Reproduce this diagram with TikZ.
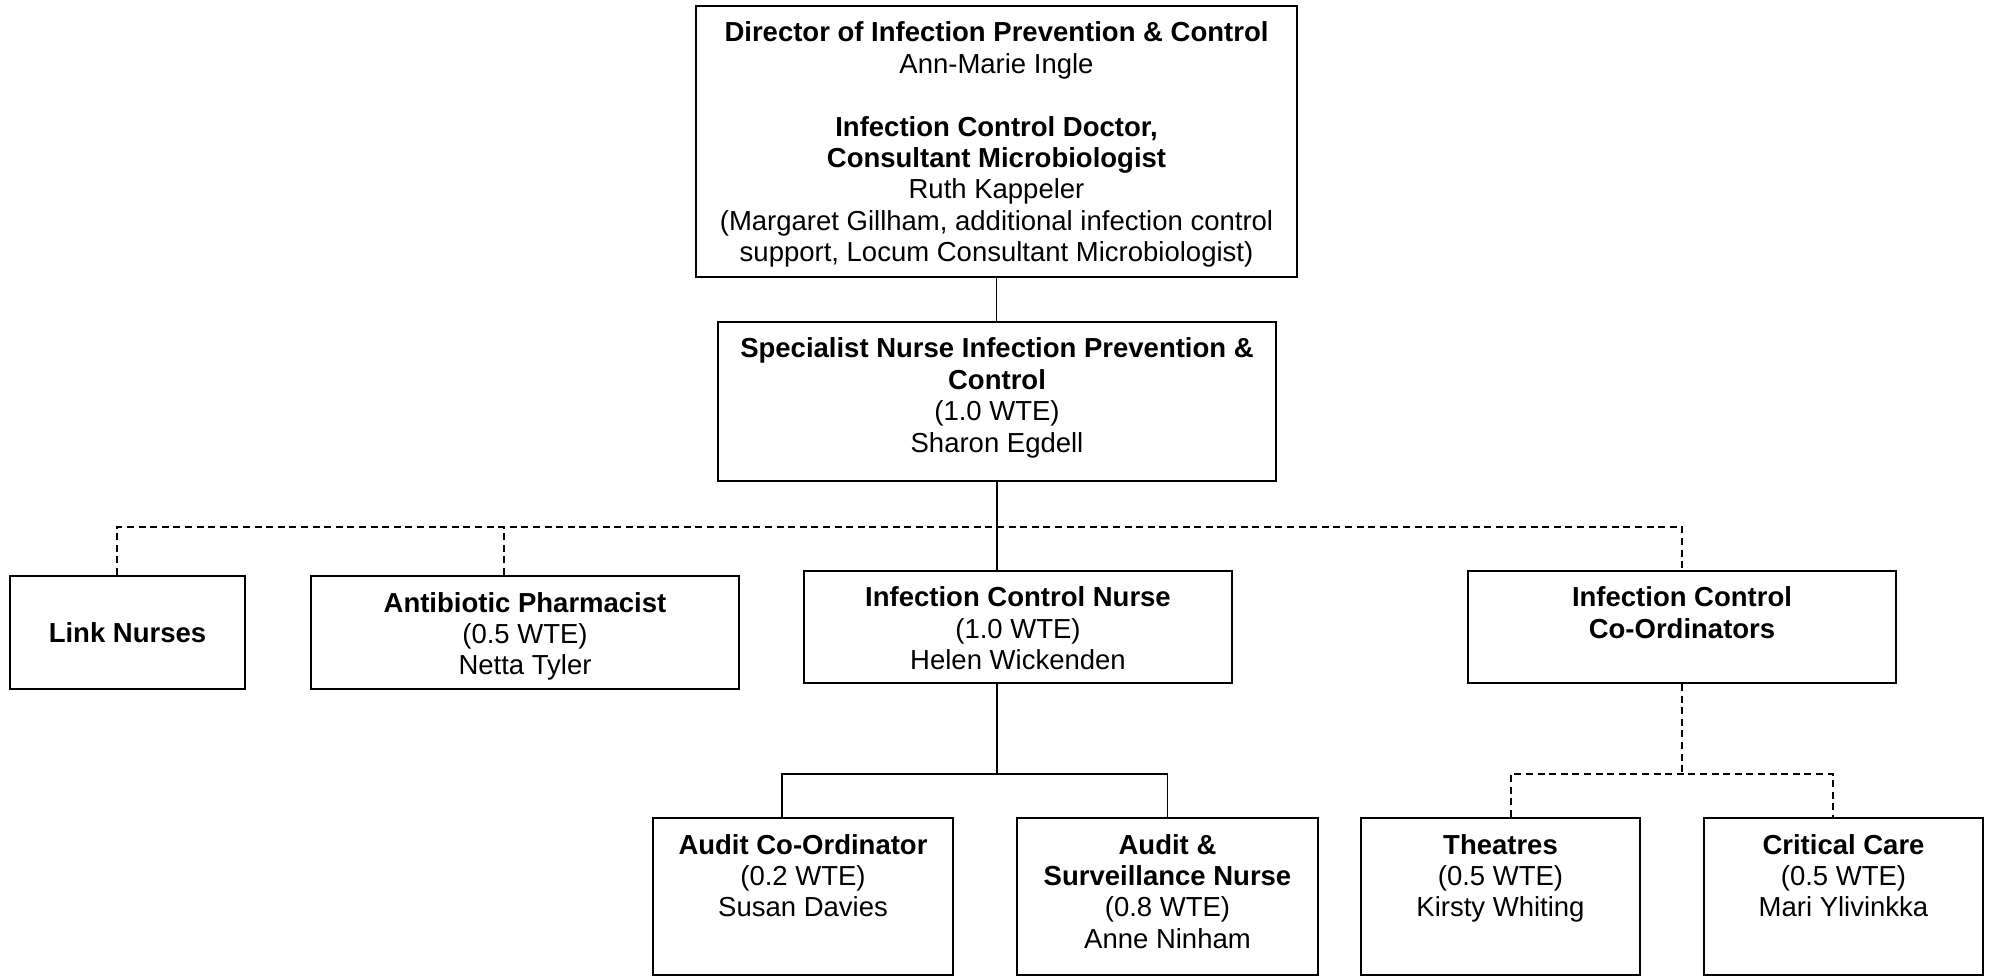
\documentclass[tikz,border=0pt]{standalone}
\usepackage{fontspec}
\setmainfont{Liberation Sans}
\newcommand{\orgtext}[3]{\begin{minipage}[c][#2][t]{#1}\centering\fontsize{13.75pt}{15.7pt}\selectfont\rule{0pt}{18pt}#3\end{minipage}}
\begin{document}
\begin{tikzpicture}[x=0.5pt,y=-0.5pt,
  orgbox/.style={draw=black,line width=1pt,inner sep=0pt,fill=white},
  conn/.style={draw=black,line width=0.75pt},
  dconn/.style={draw=black,line width=0.75pt,dash pattern=on 3.5pt off 2.3pt}]
\useasboundingbox (0,0) rectangle (1990,977);
% coordinates for connector bends
\coordinate (bus) at (0,527);
\coordinate (busb) at (0,774);
\coordinate (lkx) at (117,0);
\coordinate (apx) at (504,0);
\coordinate (acx) at (782,0);
\coordinate (thx) at (1511,0);
\coordinate (ccx) at (1833,0);
% boxes
\node[orgbox,minimum width=300.5pt,minimum height=135.5pt] (top) at (996.5,141.5)
  {\orgtext{300.5pt}{135.5pt}{\textbf{Director of Infection Prevention \& Control}\\
  Ann-Marie Ingle\\[15.7pt]
  \textbf{Infection Control Doctor,}\\
  \textbf{Consultant Microbiologist}\\
  Ruth Kappeler\\
  (Margaret Gillham, additional infection control\\
  support, Locum Consultant Microbiologist)}};
\node[orgbox,minimum width=279pt,minimum height=79.5pt] (spec) at (997,401.5)
  {\orgtext{279pt}{79.5pt}{\textbf{Specialist Nurse Infection Prevention \&}\\
  \textbf{Control}\\ (1.0 WTE)\\ Sharon Egdell}};
\node[orgbox,minimum width=117.5pt,minimum height=56.5pt,font=\fontsize{13.75pt}{15.7pt}\selectfont\bfseries] (link) at (127.5,632.5) {Link Nurses};
\node[orgbox,minimum width=214pt,minimum height=56.5pt] (anti) at (525,632.5)
  {\orgtext{214pt}{56.5pt}{\textbf{Antibiotic Pharmacist}\\ (0.5 WTE)\\ Netta Tyler}};
\node[orgbox,minimum width=214pt,minimum height=56pt] (icn) at (1018,627)
  {\orgtext{214pt}{56pt}{\textbf{Infection Control Nurse}\\ (1.0 WTE)\\ Helen Wickenden}};
\node[orgbox,minimum width=214pt,minimum height=56pt] (coord) at (1682,627)
  {\orgtext{214pt}{56pt}{\textbf{Infection Control}\\ \textbf{Co-Ordinators}}};
\node[orgbox,minimum width=150pt,minimum height=78.5pt] (aco) at (803,896.5)
  {\orgtext{150pt}{78.5pt}{\textbf{Audit Co-Ordinator}\\ (0.2 WTE)\\ Susan Davies}};
\node[orgbox,minimum width=150.5pt,minimum height=78.5pt] (asv) at (1167.5,896.5)
  {\orgtext{150.5pt}{78.5pt}{\textbf{Audit \&}\\ \textbf{Surveillance Nurse}\\ (0.8 WTE)\\ Anne Ninham}};
\node[orgbox,minimum width=139.5pt,minimum height=78.5pt] (th) at (1500.5,896.5)
  {\orgtext{139.5pt}{78.5pt}{\textbf{Theatres}\\ (0.5 WTE)\\ Kirsty Whiting}};
\node[orgbox,minimum width=139.5pt,minimum height=78.5pt] (cc) at (1843.5,896.5)
  {\orgtext{139.5pt}{78.5pt}{\textbf{Critical Care}\\ (0.5 WTE)\\ Mari Ylivinkka}};
% connectors
\draw[dconn] (lkx |- link.north) -- (lkx |- bus) -- (coord.north |- bus) -- (coord.north);
\draw[dconn] (apx |- anti.north) -- (apx |- bus);
\draw[conn] (top.south) -- (top.south |- spec.north);
\draw[conn] (spec.south) -- (spec.south |- icn.north);
\draw[conn] (spec.south |- icn.south) -- (spec.south |- busb);
\draw[conn] (acx |- aco.north) -- (acx |- busb) -- (asv.north |- busb) -- (asv.north);
\draw[dconn] (coord.south) -- (coord.south |- busb);
\draw[dconn] (thx |- th.north) -- (thx |- busb) -- (ccx |- busb) -- (ccx |- cc.north);
\end{tikzpicture}
\end{document}
